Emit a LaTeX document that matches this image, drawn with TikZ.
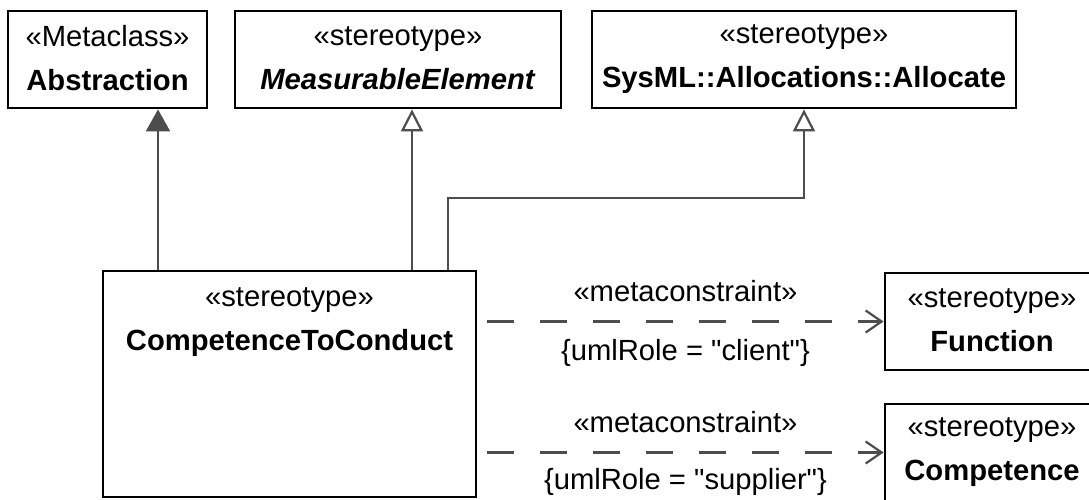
\documentclass[tikz,border=0pt]{standalone}
\usepackage{fontspec}
\setmainfont{Liberation Sans}
\usetikzlibrary{arrows.meta}
\definecolor{linegray}{HTML}{4D4D4D}

\begin{document}
\begin{tikzpicture}[x=0.5pt, y=-0.5pt,
    every node/.style={font=\fontsize{14.6}{22}\selectfont, align=center},
    umlbox/.style={draw, line width=1.4pt, rectangle, inner sep=0pt,
        execute at begin node={\rule{0pt}{25pt}}, execute at end node={\rule[-1.5pt]{0pt}{1.5pt}}},
    generalize/.style={draw=linegray, line width=1.1pt, -{Triangle[open, length=11pt, width=11pt]}},
    extend/.style={draw=linegray, line width=1.1pt, -{Triangle[length=11pt, width=12pt]}},
    constraint/.style={draw=linegray, line width=1.1pt, dash pattern=on 13.5pt off 13pt,
        -{Straight Barb[length=8pt, width=11pt]}, shorten <=5pt}]
        \useasboundingbox (0,0) rectangle (1089,499);
        \node[umlbox, minimum width=99.5pt, minimum height=48.5pt] (abs) at (107.5,59.5) {«Metaclass»\\\textbf{Abstraction}};
        \node[umlbox, minimum width=163pt, minimum height=48.5pt] (meas) at (398,59.5) {«stereotype»\\\textbf{\itshape MeasurableElement}};
        \node[umlbox, minimum width=212pt, minimum height=48.5pt] (alloc) at (804,59.5) {«stereotype»\\\textbf{SysML::Allocations::Allocate}};
        \node[umlbox, minimum width=186.5pt, minimum height=113pt,
            label={[anchor=north, inner sep=9pt]north:{«stereotype»\\\textbf{CompetenceToConduct}}}] (ctc) at (289.5,384) {};
        \node[umlbox, minimum width=107pt, minimum height=48.5pt] (fun) at (992,321.5) {«stereotype»\\\textbf{Function}};
        \node[umlbox, minimum width=107pt, minimum height=48.5pt] (comp) at (992,452.5) {«stereotype»\\\textbf{Competence}};
        \draw[extend] (158,0 |- ctc.north) -- (158,0 |- abs.south);
        \draw[generalize] (412,0 |- ctc.north) -- (412,0 |- meas.south);
        \draw[generalize] (448,0 |- ctc.north) -- (448,198) -| (alloc.south);
        \draw[constraint] (ctc.east |- fun) -- (fun.west)
            node[midway, xshift=2.5pt, yshift=15pt] {«metaconstraint»}
            node[midway, xshift=2.5pt, yshift=-15.5pt] {\{umlRole = \textquotedbl client\textquotedbl\}};
        \draw[constraint] (ctc.east |- comp) -- (comp.west)
            node[midway, xshift=2.5pt, yshift=15pt] {«metaconstraint»}
            node[midway, xshift=2.5pt, yshift=-14.5pt] {\{umlRole = \textquotedbl supplier\textquotedbl\}};
\end{tikzpicture}
\end{document}
